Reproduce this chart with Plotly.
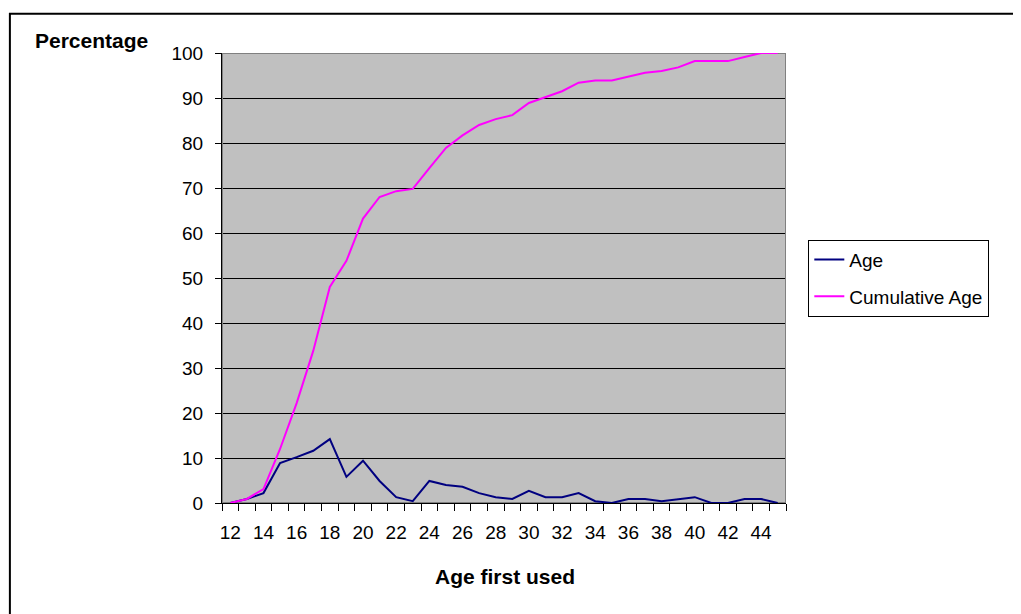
import plotly.graph_objects as go

# ---- data ----
ages = [12, 13, 14, 15, 16, 17, 18, 19, 20, 21, 22, 23, 24, 25, 26, 27, 28,
        29, 30, 31, 32, 33, 34, 35, 36, 37, 38, 39, 40, 41, 42, 43, 44, 45]
age_pct = [0.0, 0.9, 2.2, 8.9, 10.2, 11.6, 14.2, 5.8, 9.4, 4.9, 1.3, 0.4,
           4.9, 4.0, 3.6, 2.2, 1.3, 0.9, 2.7, 1.3, 1.3, 2.2, 0.4, 0.0,
           0.9, 0.9, 0.4, 0.9, 1.3, 0.0, 0.0, 0.9, 0.9, 0.0]
cum_pct = [0.0, 0.9, 3.1, 12.0, 22.2, 33.8, 48.0, 53.8, 63.2, 68.0, 69.3,
           69.8, 74.4, 78.9, 81.7, 84.0, 85.3, 86.2, 88.9, 90.2, 91.5, 93.4,
           93.9, 93.9, 94.7, 95.6, 96.0, 96.8, 98.2, 98.2, 98.2, 99.1, 100.0, 100.0]
x_tick_labels = [12, 14, 16, 18, 20, 22, 24, 26, 28, 30, 32, 34, 36, 38, 40, 42, 44]
y_tick_labels = [0, 10, 20, 30, 40, 50, 60, 70, 80, 90, 100]

FONT = "Liberation Sans, Arial, sans-serif"
OFF = 8  # page body margin
W, H = 1021 - OFF, 614 - OFF
L, R, T, B = 222 - OFF, 785.7 - OFF, 53.3 - OFF, 503.3 - OFF
pw, ph = R - L, B - T


def px_x(v):
    return (v - OFF - L) / pw


def px_y(v):
    return (B - (v - OFF)) / ph


fig = go.Figure()
fig.add_trace(go.Scatter(x=ages, y=age_pct, mode="lines", name="Age",
                         line=dict(color="#000080", width=2),
                         legendgroup="a"))
fig.add_trace(go.Scatter(x=ages, y=cum_pct, mode="lines", name="Cumulative Age",
                         line=dict(color="#FF00FF", width=2),
                         legendgroup="b"))

fig.update_layout(
    width=W, height=H,
    margin=dict(l=L, r=W - R, t=T, b=H - B, autoexpand=False),
    paper_bgcolor="white",
    plot_bgcolor="#C0C0C0",
    font=dict(family=FONT, size=19, color="black"),
    showlegend=True,
    legend=dict(x=px_x(808), xanchor="left", y=px_y(240), yanchor="top",
                bgcolor="white", bordercolor="black", borderwidth=1,
                font=dict(family=FONT, size=19, color="black"),
                tracegroupgap=9),
    xaxis=dict(range=[11.5, 45.5], tickvals=x_tick_labels,
               ticktext=[str(v) for v in x_tick_labels],
               ticks="", showgrid=False, zeroline=False,
               showline=True, linecolor="black", linewidth=1,
               ticklabelstandoff=12,
               minor=dict(ticks="outside", tick0=11.5, dtick=1, ticklen=7,
                          tickcolor="black", showgrid=False),
               tickfont=dict(family=FONT, size=19, color="black")),
    yaxis=dict(range=[0, 100], tickvals=y_tick_labels,
               ticks="outside", ticklen=6, tickcolor="black",
               showgrid=True, gridcolor="black", gridwidth=1,
               zeroline=False, showline=True, linecolor="black", linewidth=1,
               ticklabelstandoff=8,
               tickfont=dict(family=FONT, size=19, color="black")),
    shapes=[
        dict(type="rect", xref="x", yref="y", x0=11.5, x1=45.5, y0=0, y1=100,
             line=dict(color="#808080", width=2), fillcolor="rgba(0,0,0,0)",
             layer="between"),
        dict(type="rect", xref="paper", yref="paper",
             x0=px_x(10), x1=px_x(1040), y0=px_y(630), y1=px_y(14),
             line=dict(color="black", width=2), fillcolor="rgba(0,0,0,0)",
             layer="above"),
    ],
    annotations=[
        dict(text="<b>Percentage</b>", xref="paper", yref="paper",
             x=px_x(91.7), y=px_y(40.7), xanchor="center", yanchor="middle",
             showarrow=False, font=dict(family=FONT, size=21, color="black")),
        dict(text="<b>Age first used</b>", xref="paper", yref="paper",
             x=px_x(504.5), y=px_y(576.7), xanchor="center", yanchor="middle",
             showarrow=False, font=dict(family=FONT, size=21, color="black")),
    ],
)

fig.write_html("out.html")
